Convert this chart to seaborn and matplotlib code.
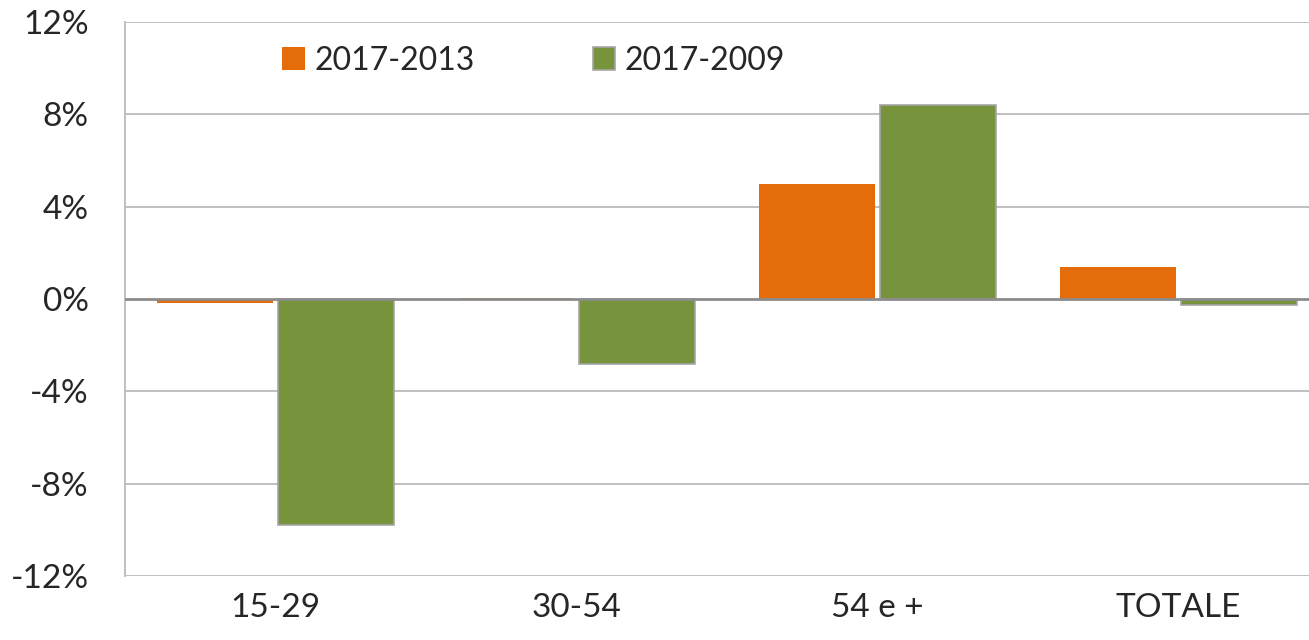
import pandas as pd
import numpy as np
import matplotlib
matplotlib.use("Agg")
import matplotlib.pyplot as plt
import matplotlib.patches as mpatches
import seaborn as sns

# values (percent change)
categories = ["15-29", "30-54", "54 e +", "TOTALE"]
series = ["2017-2013", "2017-2009"]
change_2013 = [-0.17, 0.05, 5.0, 1.4]
change_2009 = [-9.8, -2.8, 8.4, -0.28]
yticks = [-12, -8, -4, 0, 4, 8, 12]

df = pd.DataFrame({
    "Classe": categories * 2,
    "Periodo": [series[0]] * 4 + [series[1]] * 4,
    "Variazione": change_2013 + change_2009,
})

colors = {"2017-2013": "#E46C0A", "2017-2009": "#77933C"}

sns.set_style("white")
plt.rcParams["font.family"] = ["Lato", "DejaVu Sans"]

fig = plt.figure(figsize=(13.09, 6.4), dpi=100)
ax = fig.add_axes([125 / 1309, 64 / 640, 1204 / 1309, 554 / 640])

sns.barplot(data=df, x="Classe", y="Variazione", hue="Periodo",
            order=categories, hue_order=series, palette=colors,
            width=0.8, gap=0.035, ax=ax, legend=False, saturation=1)

# green bars get the thin grey outline
for bar in ax.containers[1]:
    bar.set_edgecolor("#A6A6A6")
    bar.set_linewidth(1.2)
for bar in ax.containers[0]:
    bar.set_linewidth(0)

ax.set_ylim(-12, 12)
ax.set_xlim(-0.5, 3.5)
ax.set_yticks(yticks)
ax.set_yticklabels([f"{v}%" for v in yticks], fontsize=24)
ax.tick_params(axis="y", length=0, pad=26)
ax.tick_params(axis="x", length=0, pad=12, labelsize=24)
ax.set_xlabel("")
ax.set_ylabel("")

for v in yticks:
    if v != 0:
        ax.axhline(v, color="#BFBFBF", lw=1.4, zorder=0)
ax.axhline(0, color="#8C8C8C", lw=2, zorder=3)

for side in ["top", "right", "bottom"]:
    ax.spines[side].set_visible(False)
ax.spines["left"].set_color("#BFBFBF")
ax.spines["left"].set_linewidth(1.4)

handles = [mpatches.Patch(facecolor=colors[series[0]], edgecolor="none"),
           mpatches.Patch(facecolor=colors[series[1]], edgecolor="#A6A6A6", lw=1.2)]
ax.legend(handles, series, ncol=2, frameon=False, loc="center left",
          bbox_to_anchor=(0.12, 0.93), fontsize=23,
          handlelength=0.7, handleheight=0.7, handletextpad=0.3,
          columnspacing=3.7, borderaxespad=0)

fig.savefig("out.png", dpi=100)
